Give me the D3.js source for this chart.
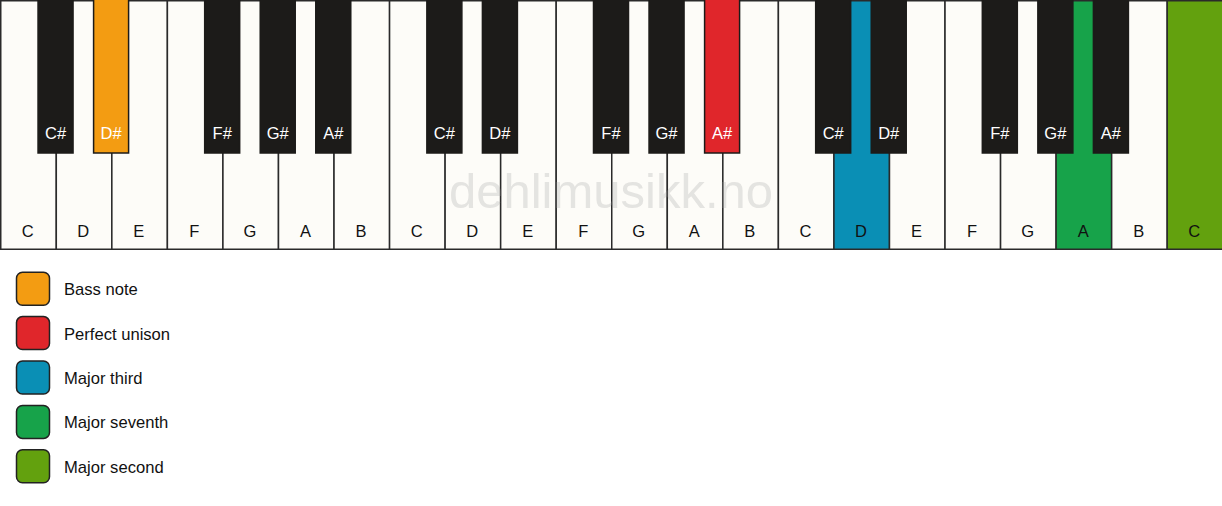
<!DOCTYPE html>
<html>
<head>
<meta charset="utf-8">
<script src="https://cdn.jsdelivr.net/npm/d3@7"></script>
<style>
  body { margin: 0; background: #ffffff; }
  svg { display: block; }
  text { font-family: "Liberation Sans", Arial, sans-serif; }
</style>
</head>
<body>
<svg id="chart" width="1222" height="506"></svg>
<script>
// keyboard data
var octaves = [1, 2, 3];
var white_names = ['C', 'D', 'E', 'F', 'G', 'A', 'B'];
var black_names = ['C#', 'D#', null, 'F#', 'G#', 'A#', null];

// highlighted keys: key id -> legend entry
var highlight_keys = ['D#1', 'A#2', 'D3', 'A3', 'C4'];
var legend_labels = ['Bass note', 'Perfect unison', 'Major third', 'Major seventh', 'Major second'];
var legend_colors = ['#f39c12', '#e0262b', '#0a8fb5', '#17a34a', '#63a10e'];

var svg = d3.select('#chart');
var svg_width = +svg.attr('width');
var kb_height = 250;
var black_height = 153;
var black_width = 35;

// build the key lists
var white_keys = [];
var black_keys = [];
octaves.forEach(function(o) {
  white_names.forEach(function(n, i) {
    white_keys.push({'id': n + o, 'name': n});
    if (black_names[i]) {
      black_keys.push({'id': black_names[i] + o, 'name': black_names[i], 'after': white_keys.length - 1});
    }
  });
});
white_keys.push({'id': 'C4', 'name': 'C'});

var color_of = function(id, fallback) {
  var i = highlight_keys.indexOf(id);
  return i >= 0 ? legend_colors[i] : fallback;
};

var xScale = d3.scaleBand()
  .domain(d3.range(white_keys.length))
  .range([0, svg_width])
  .paddingInner(0);

var board = svg.append('g').attr('class', 'keyboard');

// white keys
var wk = board.selectAll('g.white')
  .data(white_keys)
  .enter()
  .append('g')
  .attr('class', 'white');

wk.append('rect')
  .attr('x', function(d, i) { return xScale(i) + 0.75; })
  .attr('y', 0.75)
  .attr('width', xScale.bandwidth())
  .attr('height', kb_height - 1.5)
  .attr('fill', function(d) { return color_of(d.id, '#fdfcf8'); })
  .attr('stroke', '#2a2a2a')
  .attr('stroke-width', 1.5);

wk.append('text')
  .attr('x', function(d, i) { return xScale(i) + xScale.bandwidth() / 2; })
  .attr('y', 237)
  .attr('text-anchor', 'middle')
  .attr('font-size', 16.5)
  .attr('fill', '#111')
  .text(function(d) { return d.name; });

// watermark, light and behind the black keys
board.append('text')
  .attr('x', 611)
  .attr('y', 208)
  .attr('text-anchor', 'middle')
  .attr('font-size', 49)
  .attr('fill', '#9a9a9a')
  .attr('fill-opacity', 0.25)
  .text('dehlimusikk.no');

// black keys
var bk = board.selectAll('g.black')
  .data(black_keys)
  .enter()
  .append('g')
  .attr('class', 'black');

bk.append('rect')
  .attr('x', function(d) { return xScale(d.after + 1) - black_width / 2; })
  .attr('y', -1)
  .attr('width', black_width)
  .attr('height', black_height + 1)
  .attr('fill', function(d) { return color_of(d.id, '#1c1b19'); })
  .attr('stroke', '#1c1b19')
  .attr('stroke-width', 1.5);

bk.append('text')
  .attr('x', function(d) { return xScale(d.after + 1); })
  .attr('y', 139)
  .attr('text-anchor', 'middle')
  .attr('font-size', 16.5)
  .attr('fill', '#ffffff')
  .text(function(d) { return d.name; });

// legend
var yLegend = d3.scaleBand()
  .domain(d3.range(legend_labels.length))
  .range([267, 489]);

var lg = svg.append('g').attr('class', 'legend')
  .selectAll('g')
  .data(legend_labels)
  .enter()
  .append('g');

lg.append('rect')
  .attr('x', 16.5)
  .attr('y', function(d, i) { return yLegend(i) + yLegend.bandwidth() / 2 - 17; })
  .attr('width', 33)
  .attr('height', 33)
  .attr('rx', 6)
  .attr('fill', function(d, i) { return legend_colors[i]; })
  .attr('stroke', '#222')
  .attr('stroke-width', 1.5);

lg.append('text')
  .attr('x', 64)
  .attr('y', function(d, i) { return yLegend(i) + yLegend.bandwidth() / 2 + 6; })
  .attr('font-size', 16.6)
  .attr('fill', '#111')
  .text(function(d) { return d; });
</script>
</body>
</html>
